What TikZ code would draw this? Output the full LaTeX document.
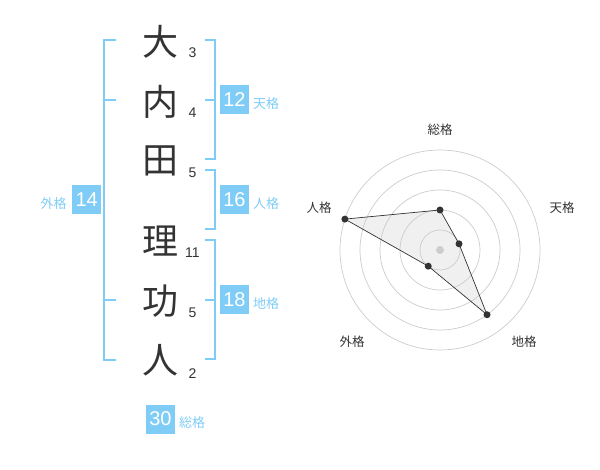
\documentclass[tikz,border=0pt]{standalone}
\usepackage{fontspec}
\usetikzlibrary{calc}
\setmainfont{Liberation Sans}
\newfontfamily\cjk{Noto Sans CJK JP}
\definecolor{kblue}{HTML}{7FCCF7}
\definecolor{kdark}{HTML}{333333}
\definecolor{ring}{HTML}{CCCCCC}
\begin{document}
\begin{tikzpicture}[x=1pt,y=-1pt,
  kanji/.style={font=\cjk\fontsize{36}{36}\selectfont,text=kdark,inner sep=0},
  strokes/.style={font=\fontsize{14}{14}\selectfont,text=kdark,inner sep=0},
  numbox/.style={fill=kblue,text=white,minimum size=29pt,inner sep=0,font=\fontsize{20}{20}\selectfont},
  kaku/.style={font=\cjk\fontsize{13}{13}\selectfont,text=kblue,inner sep=0},
  bracket/.style={draw=kblue,line width=2pt},
  radarlbl/.style={font=\cjk\fontsize{12.5}{12.5}\selectfont,text=kdark,inner sep=0},
  dot/.style={circle,fill=kdark,inner sep=0,minimum size=7pt}]
\useasboundingbox (0,0) rectangle (600,470);
% characters
\node[kanji] (c1) at (160,42) {大};
\node[kanji] (c2) at (160,102) {内};
\node[kanji] (c3) at (160,161) {田};
\node[kanji] (c4) at (160,241) {理};
\node[kanji] (c5) at (160,301) {功};
\node[kanji] (c6) at (160,360) {人};
\node[strokes] (s1) at (192.5,52.5) {3};
\node[strokes] (s2) at (192.5,113) {4};
\node[strokes] (s3) at (192.5,172.5) {5};
\node[strokes] (s4) at (192.5,252.5) {11};
\node[strokes] (s5) at (192.5,313) {5};
\node[strokes] (s6) at (192.5,373.5) {2};
% brackets
\draw[bracket] (116,40) -- (104,40) -- (104,360) -- (116,360);
\draw[bracket] (104,100) -- (116,100);
\draw[bracket] (104,300) -- (116,300);
\draw[bracket] (205,40) -- (215,40) -- (215,159.5) -- (205,159.5);
\draw[bracket] (205,100) -- (215,100);
\draw[bracket] (205,170) -- (215,170) -- (215,229.5) -- (205,229.5);
\draw[bracket] (205,240) -- (215,240) -- (215,359.5) -- (205,359.5);
\draw[bracket] (205,300) -- (215,300);
% boxes and labels
\node[numbox] (b1) at (234.5,100) {12};
\node[kaku] (l1) at (266,104) {天格};
\node[numbox] (b2) at (234.5,200) {16};
\node[kaku] (l2) at (266,204) {人格};
\node[numbox] (b3) at (234.5,300) {18};
\node[kaku] (l3) at (266,304) {地格};
\node[numbox] (b4) at (86.7,200) {14};
\node[kaku] (l4) at (53.5,204) {外格};
\node[numbox] (b5) at (160.5,419) {30};
\node[kaku] (l5) at (192,423) {総格};
% radar
\coordinate (o) at (440,250);
\coordinate (p1) at ($(o)+(0,-40)$);
\coordinate (p2) at ($(o)+({20*cos(18)},{-20*sin(18)})$);
\coordinate (p3) at ($(o)+({80*cos(54)},{80*sin(54)})$);
\coordinate (p4) at ($(o)+({-20*cos(54)},{20*sin(54)})$);
\coordinate (p5) at ($(o)+({-100*cos(18)},{-100*sin(18)})$);
\fill[black!6] (p1) -- (p2) -- (p3) -- (p4) -- (p5) -- cycle;
\foreach \r in {20,40,60,80,100} \draw[ring,line width=0.7pt] (o) circle[radius=\r];
\draw[draw=kdark,line width=0.7pt] (p1) -- (p2) -- (p3) -- (p4) -- (p5) -- cycle;
\fill[ring] (o) circle[radius=4];
\foreach \p in {p1,p2,p3,p4,p5} \node[dot] at (\p) {};
\node[radarlbl] (r1) at (440,130) {総格};
\node[radarlbl] (r2) at (562,208) {天格};
\node[radarlbl] (r3) at (524,342) {地格};
\node[radarlbl] (r4) at (352,342) {外格};
\node[radarlbl] (r5) at (319,208) {人格};
\end{tikzpicture}
\end{document}
